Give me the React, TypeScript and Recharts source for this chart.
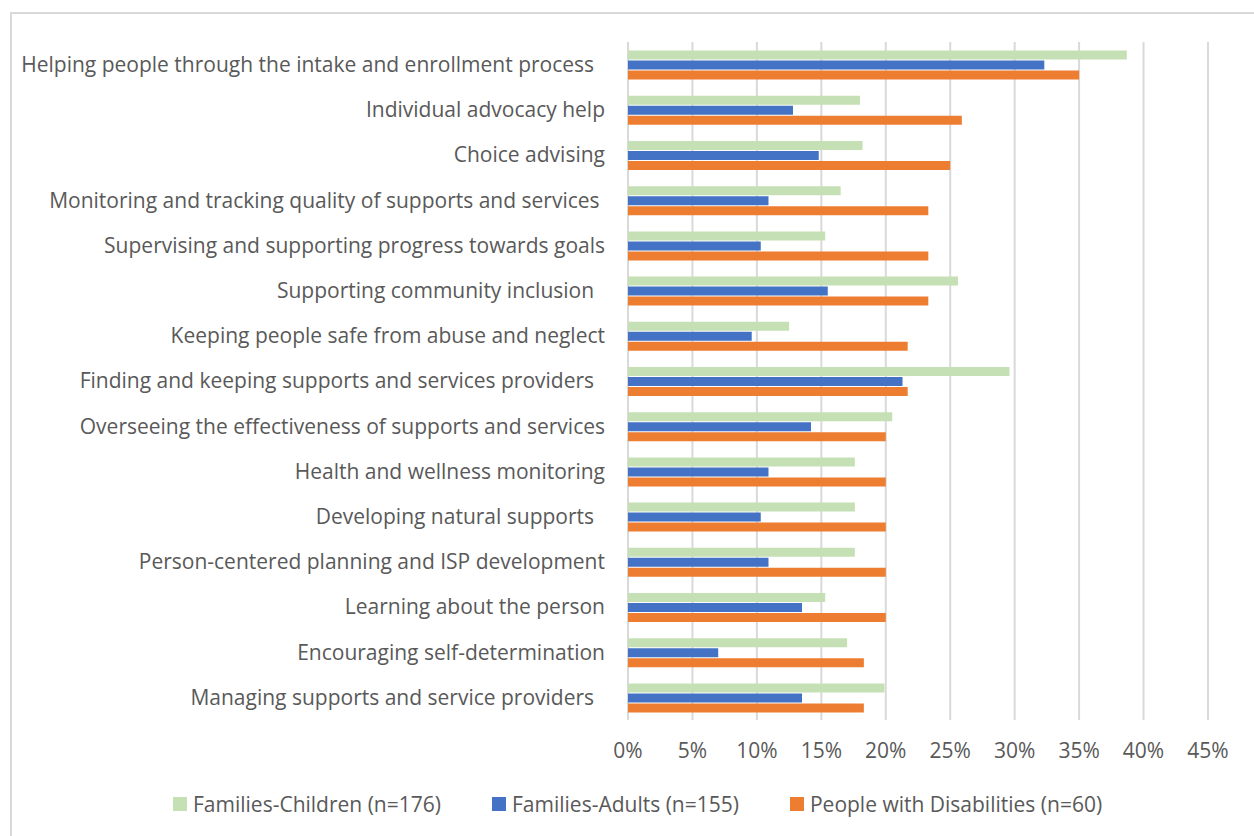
import { BarChart, Bar, XAxis, YAxis, CartesianGrid } from "recharts";

const categories = [
  "Helping people through the intake and enrollment process  ",
  "Individual advocacy help",
  "Choice advising",
  "Monitoring and tracking quality of supports and services ",
  "Supervising and supporting progress towards goals",
  "Supporting community inclusion  ",
  "Keeping people safe from abuse and neglect",
  "Finding and keeping supports and services providers  ",
  "Overseeing the effectiveness of supports and services",
  "Health and wellness monitoring",
  "Developing natural supports  ",
  "Person-centered planning and ISP development",
  "Learning about the person",
  "Encouraging self-determination",
  "Managing supports and service providers  ",
];

const familiesChildren = [38.7, 18.0, 18.2, 16.5, 15.3, 25.6, 12.5, 29.6, 20.5, 17.6, 17.6, 17.6, 15.3, 17.0, 19.9];
const familiesAdults = [32.3, 12.8, 14.8, 10.9, 10.3, 15.5, 9.6, 21.3, 14.2, 10.9, 10.3, 10.9, 13.5, 7.0, 13.5];
const peopleWithDisabilities = [35.0, 25.9, 25.0, 23.3, 23.3, 23.3, 21.7, 21.7, 20.0, 20.0, 20.0, 20.0, 20.0, 18.3, 18.3];

const xTicks = [0, 5, 10, 15, 20, 25, 30, 35, 40, 45];

const series = [
  { key: "children", name: "Families-Children (n=176)", color: "#c5e0b4" },
  { key: "adults", name: "Families-Adults (n=155)", color: "#4472c4" },
  { key: "pwd", name: "People with Disabilities (n=60)", color: "#ed7d31" },
];

const data = categories.map((category, i) => ({
  category,
  children: familiesChildren[i],
  adults: familiesAdults[i],
  pwd: peopleWithDisabilities[i],
}));

const FONT = "'Open Sans', Lato, sans-serif";
const TEXT = "#595959";

const CategoryTick = (props: any) => {
  const { x, y, payload } = props;
  return (
    <text
      x={x}
      y={y}
      dy="0.355em"
      textAnchor="end"
      fill={TEXT}
      fontSize={21}
      fontFamily={FONT}
      style={{ whiteSpace: "pre" }}
    >
      {payload.value}
    </text>
  );
};

export default function App() {
  return (
    <div style={{ position: "absolute", left: 0, top: 0, width: 1254, height: 836, background: "#fff", overflow: "hidden" }}>
      <div
        style={{
          position: "absolute",
          left: 10,
          top: 12,
          width: 1244,
          height: 824,
          borderTop: "2px solid #d9d9d9",
          borderLeft: "2px solid #d9d9d9",
          boxSizing: "border-box",
        }}
      />
      <div style={{ position: "absolute", left: 0, top: 0 }}>
        <BarChart
          width={1254}
          height={836}
          data={data}
          layout="vertical"
          margin={{ top: 42, right: 46, bottom: 76, left: 0 }}
          barCategoryGap="19%"
          barGap={1}
        >
          <CartesianGrid horizontal={false} stroke="#d9d9d9" strokeWidth={2} />
          <XAxis
            type="number"
            domain={[0, 45]}
            ticks={xTicks}
            tickFormatter={(v: number) => `${v}%`}
            axisLine={false}
            tickLine={false}
            tickSize={0}
            tickMargin={23}
            height={40}
            interval={0}
            tick={{ fill: TEXT, fontSize: 21, fontFamily: FONT }}
          />
          <YAxis
            type="category"
            dataKey="category"
            width={628}
            axisLine={false}
            tickLine={false}
            tickSize={0}
            tickMargin={23}
            interval={0}
            tick={<CategoryTick />}
          />
          {series.map((s) => (
            <Bar key={s.key} dataKey={s.key} name={s.name} fill={s.color} isAnimationActive={false} />
          ))}
        </BarChart>
      </div>
      <div
        style={{
          position: "absolute",
          left: 173,
          top: 792,
          height: 24,
          display: "flex",
          alignItems: "center",
          gap: 51,
          fontFamily: FONT,
          fontSize: 21,
          color: TEXT,
        }}
      >
        {series.map((s) => (
          <div key={s.key} style={{ display: "flex", alignItems: "center" }}>
            <span style={{ display: "inline-block", width: 14, height: 14, background: s.color, marginRight: 6 }} />
            <span>{s.name}</span>
          </div>
        ))}
      </div>
    </div>
  );
}
